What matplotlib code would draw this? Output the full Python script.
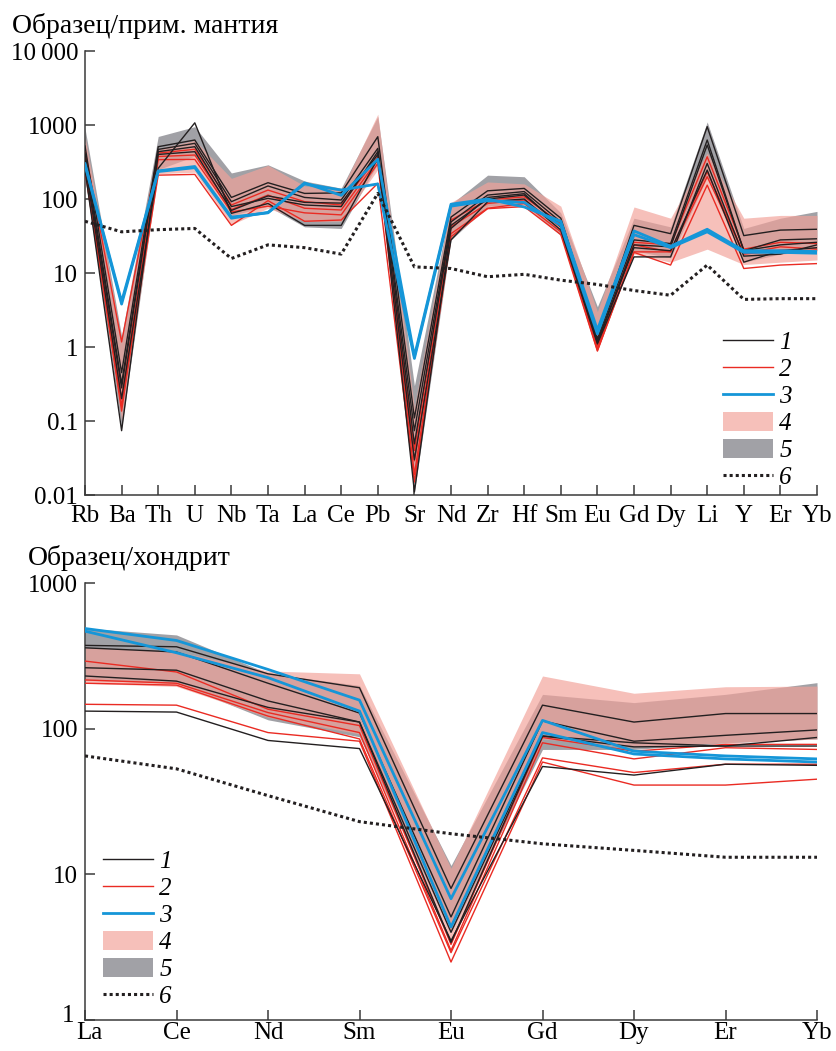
import matplotlib
matplotlib.use("Agg")
import matplotlib.pyplot as plt
import matplotlib.transforms as mtransforms
from matplotlib.lines import Line2D
from matplotlib.patches import Patch
import numpy as np

plt.rcParams['font.family'] = ['Liberation Serif', 'DejaVu Serif']

# ---------- top panel: primitive mantle normalised ----------
elems_pm = ["Rb", "Ba", "Th", "U", "Nb", "Ta", "La", "Ce", "Pb", "Sr", "Nd",
            "Zr", "Hf", "Sm", "Eu", "Gd", "Dy", "Li", "Y", "Er", "Yb"]

pm_black = [
    [520, 0.45, 509, 627, 105, 166, 119, 121, 695, 0.11, 57, 129, 139, 55, 1.5, 44, 34, 950, 32, 38, 39],
    [420, 0.32, 468, 565, 92, 150, 105, 97, 483, 0.074, 49, 113, 126, 49, 1.3, 28, 25, 627, 20, 28, 29],
    [350, 0.28, 436, 509, 79, 102, 83, 79, 436, 0.049, 44, 100, 113, 44, 1.2, 24, 22.6, 537, 20, 24, 26],
    [300, 0.2, 260, 1070, 64, 87, 44, 44, 354, 0.03, 28, 92, 100, 38, 1.1, 16.5, 16.5, 302, 16.9, 18, 24],
    [250, 0.074, 400, 436, 70, 110, 90, 88, 400, 0.011, 40, 105, 118, 42, 1.15, 22, 20, 246, 14, 20, 22],
]
pm_red = [
    [450, 1.17, 417, 470, 83, 132, 92, 83, 372, 0.04, 52, 97, 107, 47, 1.05, 26, 24, 372, 21, 26, 25],
    [380, 0.2, 375, 393, 72, 113, 75, 71, 337, 0.029, 42, 87, 97, 42, 0.95, 24, 19.3, 234, 18.3, 22.6, 21],
    [300, 0.136, 340, 343, 67, 80, 65, 61, 302, 0.019, 34, 75, 87, 36, 0.9, 19.3, 19.3, 200, 18, 20.3, 19.3],
    [240, 0.16, 210, 215, 44, 95, 50, 52, 163, 0.015, 31, 74, 79, 33, 0.88, 19, 12.8, 154, 11.5, 12.8, 13.4],
]
pm_blue = [
    [300, 4.1, 240, 275, 57, 65, 165, 112, 345, 0.75, 85, 100, 78, 50, 1.7, 37, 23, 39, 20, 20, 19.5],
    [290, 3.8, 235, 265, 55, 66, 160, 132, 160, 0.7, 80, 95, 90, 44, 1.5, 33, 22, 36, 19, 19, 18.5],
]
pm_band4_hi = [700, 1.2, 480, 620, 190, 285, 150, 130, 1400, 0.15, 90, 170, 160, 80, 3.0, 78, 55, 420, 55, 60, 60]
pm_band4_lo = [220, 0.1, 220, 230, 45, 75, 50, 50, 250, 0.02, 30, 75, 80, 34, 0.9, 18, 14, 21, 13, 14, 15]
pm_band5_hi = [900, 1.4, 700, 950, 225, 290, 175, 140, 1300, 0.3, 85, 210, 200, 65, 3.5, 55, 42, 1100, 40, 55, 68]
pm_band5_lo = [200, 0.08, 250, 380, 60, 80, 42, 40, 300, 0.011, 28, 80, 85, 32, 1.0, 20, 16, 200, 14, 18, 20]
pm_ref = [50, 36, 38.5, 40, 15.7, 24, 22, 18, 119, 12.1, 11.5, 8.9, 9.6, 8, 7, 5.8, 5.0, 12.8, 4.4, 4.5, 4.5]

# ---------- bottom panel: chondrite normalised ----------
elems_ch = ["La", "Ce", "Nd", "Sm", "Eu", "Gd", "Dy", "Er", "Yb"]

ch_black = [
    [373, 365, 238, 191, 8.0, 145, 111, 127, 127],
    [359, 336, 205, 128, 5.1, 113, 82, 90, 98],
    [262, 252, 155, 111, 4.0, 89, 80, 76, 87],
    [230, 212, 140, 111, 3.4, 89, 75, 76, 76],
    [132, 130, 83, 73, 3.5, 55, 48, 57, 56],
]
ch_red = [
    [291, 245, 136, 105, 3.3, 87, 70, 78, 78],
    [216, 205, 129, 94, 3.0, 80, 62, 74, 72],
    [205, 199, 122, 85, 2.9, 63, 50, 57, 57],
    [147, 145, 94, 82, 2.5, 59, 41, 41, 45],
]
ch_blue = [
    [487, 403, 255, 157, 6.8, 114, 70, 65, 62],
    [467, 332, 224, 132, 4.35, 94, 67, 62, 59],
]
ch_band4_hi = [360, 340, 249, 238, 11, 230, 175, 194, 196]
ch_band4_lo = [205, 195, 120, 92, 3.4, 85, 75, 80, 85]
ch_band5_hi = [490, 440, 240, 198, 11.5, 172, 151, 172, 207]
ch_band5_lo = [215, 205, 115, 88, 4.0, 72, 72, 80, 85]
ch_ref = [65, 53, 34.7, 23, 19, 16.2, 14.6, 13.1, 13.1]

legend_labels = ["1", "2", "3", "4", "5", "6"]

c_black = "#231f20"
c_red = "#ea2b23"
c_blue = "#1596d8"
c_pink = "#f2a29a"
c_gray = "#a1a1a6"
c_axis = "#3a3a3a"


def draw_panel(ax, elems, blacks, reds, blues, b4hi, b4lo, b5hi, b5lo, ref, xpad):
    x = np.arange(len(elems))
    ax.fill_between(x, b5lo, b5hi, color=c_gray, lw=0, zorder=1)
    ax.fill_between(x, b4lo, b4hi, color=c_pink, alpha=0.68, lw=0, zorder=2)
    for s in blacks:
        ax.plot(x, s, color=c_black, lw=1.0, zorder=4)
    for s in reds:
        ax.plot(x, s, color=c_red, lw=1.0, zorder=3)
    for s in blues:
        ax.plot(x, s, color=c_blue, lw=2.0, zorder=5)
    ax.plot(x, ref, color=c_black, lw=2.2, ls=(0, (1, 1)), zorder=6)
    ax.set_yscale("log")
    ax.set_xlim(0, len(elems) - 1)
    ax.set_xticks(x)
    ax.set_xticklabels(elems, fontsize=18)
    ax.minorticks_off()
    for sp in ["top", "right"]:
        ax.spines[sp].set_visible(False)
    for sp in ["left", "bottom"]:
        ax.spines[sp].set_color(c_axis)
        ax.spines[sp].set_linewidth(1.1)
    ax.tick_params(direction="in", length=7, width=1.1, color=c_axis,
                   labelsize=18)
    ax.tick_params(axis="x", pad=xpad)
    ax.tick_params(axis="y", pad=5)


def legend_handles():
    return [
        Line2D([], [], color=c_black, lw=1.0),
        Line2D([], [], color=c_red, lw=1.0),
        Line2D([], [], color=c_blue, lw=2.0),
        Patch(facecolor=c_pink, alpha=0.68, lw=0),
        Patch(facecolor=c_gray, lw=0),
        Line2D([], [], color=c_black, lw=2.2, ls=(0, (1, 1))),
    ]


def add_legend(ax, x0, y0):
    ax.legend(legend_handles(), legend_labels, loc="upper left",
              bbox_to_anchor=(x0 / W, 1 - y0 / H), bbox_transform=fig.transFigure,
              frameon=False, handlelength=2.0, handleheight=0.8, handletextpad=0.25,
              labelspacing=0.15, borderpad=0, borderaxespad=0,
              prop={"size": 18, "style": "italic"})


fig = plt.figure(figsize=(8.36, 10.51), dpi=100)
W, H = 836.0, 1051.0

ax1 = fig.add_axes([85 / W, 1 - 495 / H, 732 / W, 444 / H])
draw_panel(ax1, elems_pm, pm_black, pm_red, pm_blue,
           pm_band4_hi, pm_band4_lo, pm_band5_hi, pm_band5_lo, pm_ref, 7)
ax1.set_ylim(0.01, 10000)
ax1.set_yticks([0.01, 0.1, 1, 10, 100, 1000, 10000])
ax1.set_yticklabels(["0.01", "0.1", "1", "10", "100", "1000", "10\u2009000"])
fig.text(12 / W, 1 - 33 / H, "Образец/прим. мантия", fontsize=20)
add_legend(ax1, 723, 331)

ax2 = fig.add_axes([85 / W, 1 - 1020 / H, 732 / W, 437 / H])
draw_panel(ax2, elems_ch, ch_black, ch_red, ch_blue,
           ch_band4_hi, ch_band4_lo, ch_band5_hi, ch_band5_lo, ch_ref, 1.5)
ax2.set_ylim(1, 1000)
ax2.set_yticks([1, 10, 100, 1000])
ax2.set_yticklabels(["1", "10", "100", "1000"])
fig.text(28 / W, 1 - 565 / H, "Образец/хондрит", fontsize=20)
add_legend(ax2, 103, 850)

# the "1" at the corner sits a little higher/left, "La" a little right, as in the source
lab_one = ax2.get_yticklabels()[0]
lab_one.set_transform(lab_one.get_transform() +
                      mtransforms.ScaledTranslation(-4 / 100, 6 / 100, fig.dpi_scale_trans))
lab_la = ax2.get_xticklabels()[0]
lab_la.set_transform(lab_la.get_transform() +
                     mtransforms.ScaledTranslation(4 / 100, 0, fig.dpi_scale_trans))

fig.savefig("out.png", dpi=100)
